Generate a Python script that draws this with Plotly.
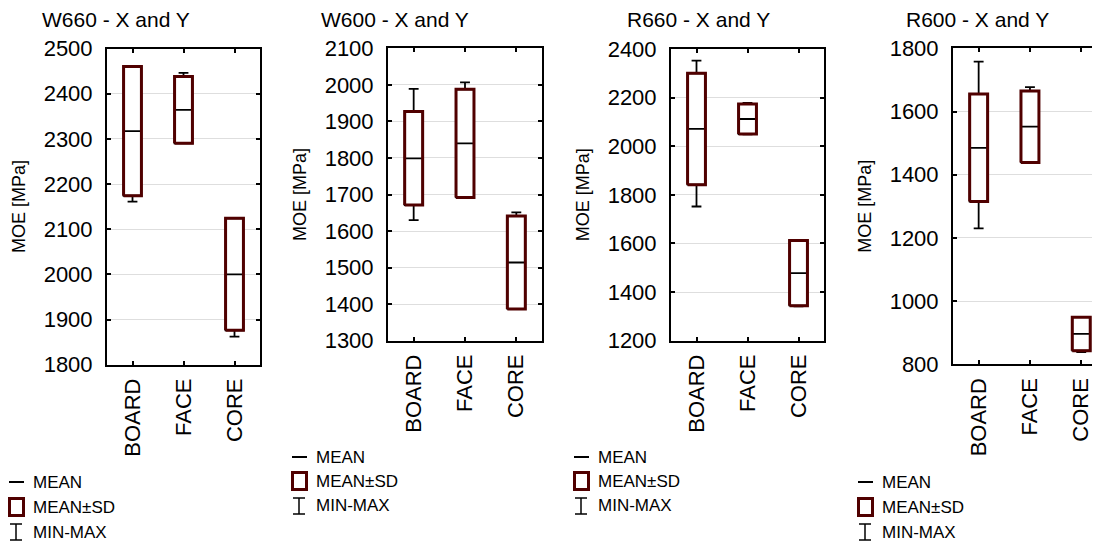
import plotly.graph_objects as go

# ---------------- data ----------------
categories = ["BOARD", "FACE", "CORE"]
titles = ["W660 - X and Y", "W600 - X and Y", "R660 - X and Y", "R600 - X and Y"]
y_title = "MOE [MPa]"
legend_labels = ["MEAN", "MEAN±SD", "MIN-MAX"]

w660_mean = [2317, 2364, 2000]
w660_sd = [143, 74, 124]
w660_min = [2161, 2290, 1862]
w660_max = [2460, 2446, 2124]

w600_mean = [1799, 1840, 1514]
w600_sd = [128, 148, 127]
w600_min = [1630, 1692, 1387]
w600_max = [1989, 2007, 1651]

r660_mean = [2071, 2112, 1478]
r660_sd = [229, 62, 134]
r660_min = [1752, 2049, 1341]
r660_max = [2352, 2178, 1613]

r600_mean = [1485, 1552, 896]
r600_sd = [170, 113, 53]
r600_min = [1230, 1439, 839]
r600_max = [1758, 1677, 949]

y_ranges = [[1800, 2500], [1300, 2100], [1200, 2400], [800, 1800]]
y_dticks = [100, 100, 200, 200]

series = [
    (w660_mean, w660_sd, w660_min, w660_max),
    (w600_mean, w600_sd, w600_min, w600_max),
    (r660_mean, r660_sd, r660_min, r660_max),
    (r600_mean, r600_sd, r600_min, r600_max),
]

# ---------------- layout geometry (pixels in the 1100x542 window) ----------------
PAGE_W, PAGE_H = 1100, 542
OFF = 8                      # default body margin of the html page
W, H = PAGE_W - OFF, PAGE_H - OFF
BOX_RED = "#500000"
FONT = "Liberation Sans, Arial, sans-serif"


def fx(v):
    return (v - OFF) / W


def fy(v):
    return 1 - (v - OFF) / H


panels = [
    dict(x0=107, x1=260, y0=48.5, y1=364.7, full=True, tx=116, lx=33, ly=[482, 507, 532]),
    dict(x0=388, x1=542, y0=48.3, y1=340.7, full=True, tx=395, lx=316, ly=[457, 481, 506]),
    dict(x0=671, x1=824, y0=49.0, y1=340.7, full=True, tx=698, lx=598, ly=[457, 481, 506]),
    dict(x0=953, x1=1100, y0=48.3, y1=364.3, full=False, tx=977, lx=882, ly=[482, 507, 532]),
]
CAT_PX = 51.3  # pixel width of one category slot
HALF = 0.175   # half box width in category units

fig = go.Figure()
shapes = []
annotations = []

for k, (p, (mean, sd, mn, mx)) in enumerate(zip(panels, series)):
    n = k + 1
    xa = "x" if n == 1 else f"x{n}"
    ya = "y" if n == 1 else f"y{n}"
    xs = list(range(len(categories)))
    lo = [m - s for m, s in zip(mean, sd)]
    hi = [m + s for m, s in zip(mean, sd)]

    # whiskers (min-max) + mean line
    fig.add_trace(go.Box(
        x=xs, q1=lo, median=mean, q3=hi, lowerfence=mn, upperfence=mx,
        orientation="v", width=2 * HALF, whiskerwidth=0.55,
        line=dict(color="black", width=1.8), fillcolor="white",
        boxpoints=False, showlegend=False, hoverinfo="skip",
        xaxis=xa, yaxis=ya,
    ))
    # mean +- sd box outline
    rx, ry = [], []
    for i in xs:
        rx += [i - HALF, i + HALF, i + HALF, i - HALF, i - HALF, None]
        ry += [lo[i], lo[i], hi[i], hi[i], lo[i], None]
    fig.add_trace(go.Scatter(
        x=rx, y=ry, mode="lines", line=dict(color=BOX_RED, width=3),
        showlegend=False, hoverinfo="skip", xaxis=xa, yaxis=ya,
    ))

    width_px = p["x1"] - p["x0"]
    xend = -0.5 + width_px / CAT_PX if not p["full"] else len(categories) - 0.5
    xkey = "xaxis" if n == 1 else f"xaxis{n}"
    ykey = "yaxis" if n == 1 else f"yaxis{n}"
    fig.layout[xkey] = dict(
        domain=[fx(p["x0"]), min(1.0, fx(p["x1"]))], anchor=ya, automargin=False,
        range=[-0.5, xend], tickmode="array", tickvals=xs, ticktext=categories,
        tickangle=-90, ticks="inside", ticklen=4, tickwidth=1.5, tickcolor="black",
        showline=True, linecolor="black", linewidth=2, mirror="ticks",
        showgrid=False, zeroline=False, ticklabelstandoff=3,
        tickfont=dict(family=FONT, size=22, color="black"),
    )
    fig.layout[ykey] = dict(
        domain=[fy(p["y1"]), fy(p["y0"])], anchor=xa, automargin=False,
        range=y_ranges[k], dtick=y_dticks[k], tick0=0,
        ticks="inside", ticklen=4, tickwidth=1.5, tickcolor="black",
        showline=True, linecolor="black", linewidth=2,
        mirror="ticks" if p["full"] else False,
        showgrid=True, gridcolor="#dedede", gridwidth=1, zeroline=False,
        ticklabelstandoff=8,
        tickfont=dict(family=FONT, size=22, color="black"),
        title=dict(text=y_title, font=dict(family=FONT, size=18, color="black"), standoff=13),
    )

    # panel title
    annotations.append(dict(
        text=titles[k], x=fx(p["tx"]), y=fy(19), xref="paper", yref="paper",
        xanchor="center", yanchor="middle", showarrow=False,
        font=dict(family=FONT, size=21, color="black"),
    ))

    # legend block
    lx, ly = p["lx"], p["ly"]
    shapes.append(dict(type="line", xref="paper", yref="paper",
                       x0=fx(lx - 24), x1=fx(lx - 9), y0=fy(ly[0]), y1=fy(ly[0]),
                       line=dict(color="black", width=2)))
    shapes.append(dict(type="rect", xref="paper", yref="paper",
                       x0=fx(lx - 23.5), x1=fx(lx - 9.5), y0=fy(ly[1] + 8.5), y1=fy(ly[1] - 8.5),
                       line=dict(color=BOX_RED, width=3), fillcolor="white"))
    shapes.append(dict(type="line", xref="paper", yref="paper",
                       x0=fx(lx - 17), x1=fx(lx - 17), y0=fy(ly[2] + 8), y1=fy(ly[2] - 8),
                       line=dict(color="black", width=1.5)))
    for dy in (-8, 8):
        shapes.append(dict(type="line", xref="paper", yref="paper",
                           x0=fx(lx - 23), x1=fx(lx - 11), y0=fy(ly[2] + dy), y1=fy(ly[2] + dy),
                           line=dict(color="black", width=1.5)))
    for lab, yy in zip(legend_labels, ly):
        annotations.append(dict(
            text=lab, x=fx(lx - 2), y=fy(yy), xref="paper", yref="paper",
            xanchor="left", yanchor="middle", showarrow=False,
            font=dict(family=FONT, size=17, color="black"),
        ))

fig.update_layout(
    template="none",
    width=W, height=H, margin=dict(l=0, r=0, t=0, b=0, pad=0),
    paper_bgcolor="white", plot_bgcolor="white",
    showlegend=False, shapes=shapes, annotations=annotations,
    font=dict(family=FONT, color="black"),
)

fig.write_html("out.html", config={"displayModeBar": False})
